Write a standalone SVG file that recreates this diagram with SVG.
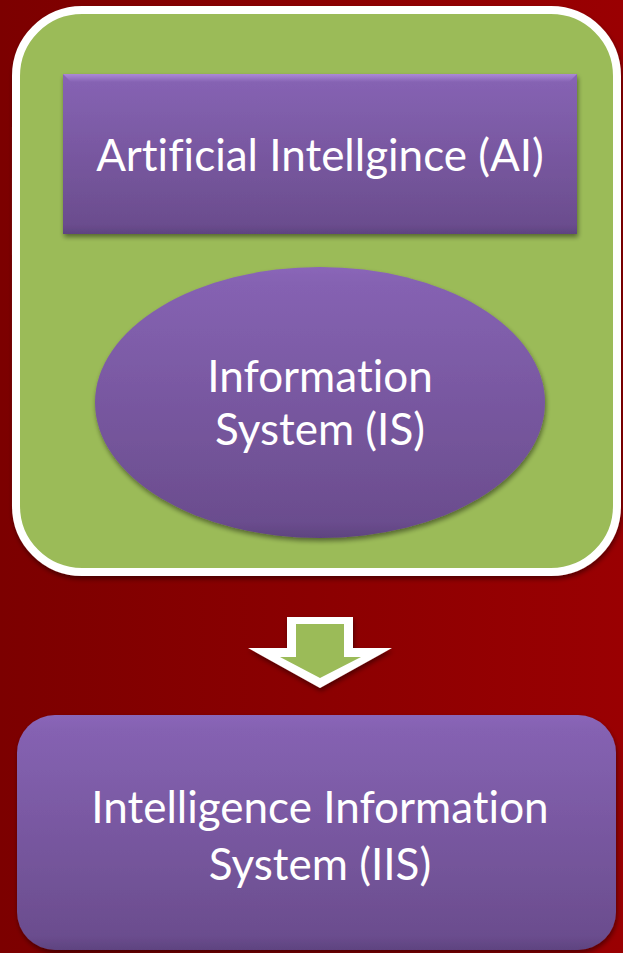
<svg xmlns="http://www.w3.org/2000/svg" width="623" height="953" viewBox="0 0 623 953">
  <defs>
    <linearGradient id="bg" x1="0" y1="0" x2="1" y2="0">
      <stop offset="0" stop-color="#7c0000"/>
      <stop offset="1" stop-color="#9a0002"/>
    </linearGradient>
    <linearGradient id="purple" x1="0" y1="0" x2="0" y2="1">
      <stop offset="0" stop-color="#8a66b8"/>
      <stop offset="0.06" stop-color="#8562b2"/>
      <stop offset="0.94" stop-color="#6b4d8e"/>
      <stop offset="1" stop-color="#5e4380"/>
    </linearGradient>
    <linearGradient id="hilite" x1="0" y1="0" x2="0" y2="1">
      <stop offset="0" stop-color="#c9a8f0" stop-opacity="0.9"/>
      <stop offset="1" stop-color="#c9a8f0" stop-opacity="0"/>
    </linearGradient>
    <filter id="shadow" x="-10%" y="-10%" width="120%" height="130%">
      <feGaussianBlur in="SourceAlpha" stdDeviation="2.5"/>
      <feOffset dx="1" dy="3" result="b"/>
      <feComponentTransfer><feFuncA type="linear" slope="0.45"/></feComponentTransfer>
      <feMerge><feMergeNode/><feMergeNode in="SourceGraphic"/></feMerge>
    </filter>
    <style>
      .lbl { font-family: Lato, "Open Sans", "Liberation Sans", sans-serif; font-size: 44px; fill: #ffffff; text-anchor: middle; font-variant-ligatures: none; font-feature-settings: "liga" 0, "clig" 0, "dlig" 0; }
      .purple { fill: url(#purple); filter: url(#shadow); }
    </style>
  </defs>

  <rect x="0" y="0" width="623" height="953" fill="url(#bg)"/>

  <g id="container">
    <rect x="16" y="10" width="601" height="562" rx="66" ry="66" fill="#9bbb59" stroke="#ffffff" stroke-width="8" filter="url(#shadow)"/>
  </g>

  <g id="ai">
    <rect class="purple" x="63" y="74" width="514" height="160"/>
    <polygon points="63,74 577,74 569,82 71,82" fill="url(#hilite)" opacity="0.6"/>
    <text class="lbl" x="320" y="171">Artificial Intellgince (AI)</text>
  </g>

  <g id="is">
    <ellipse class="purple" cx="320" cy="402.5" rx="225" ry="135.5"/>
    <text class="lbl" x="320" y="392">Information</text>
    <text class="lbl" x="320" y="445">System (IS)</text>
  </g>

  <g id="connectors">
    <g filter="url(#shadow)">
      <polygon points="287,617 353,617 353,648 392,648 320,688 248,648 287,648" fill="#ffffff"/>
      <polygon points="296,624 344,624 344,657 361,657 320,678 280,657 296,657" fill="#9bbb59"/>
    </g>
  </g>

  <g id="iis">
    <rect class="purple" x="17" y="715" width="599" height="235" rx="38" ry="38"/>
    <text class="lbl" x="320" y="823">Intelligence Information</text>
    <text class="lbl" x="320" y="880">System (IIS)</text>
  </g>
</svg>
